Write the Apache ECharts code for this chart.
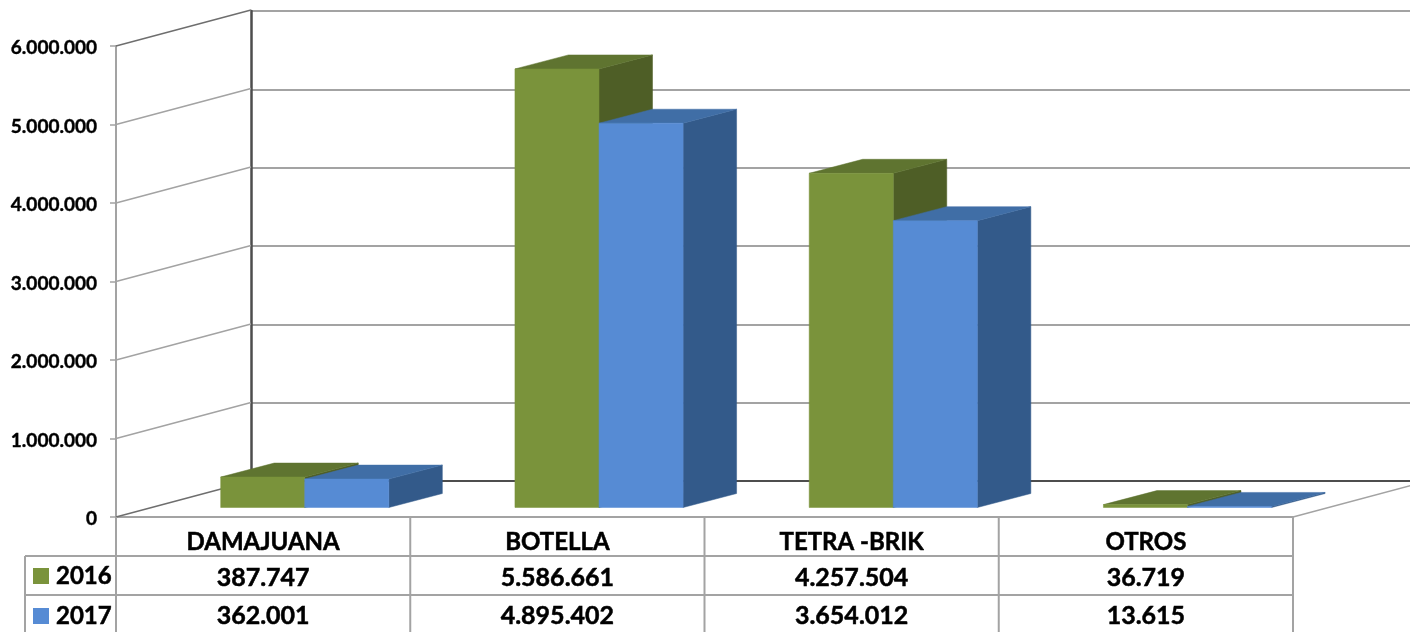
<!DOCTYPE html>
<html><head><meta charset="utf-8">
<style>html,body{margin:0;padding:0;background:#fff}#c{width:1410px;height:632px}</style>
<script src="https://cdn.jsdelivr.net/npm/echarts@6/dist/echarts.min.js"></script>
</head><body><div id="c"></div>
<script>
const categories = ['DAMAJUANA','BOTELLA','TETRA -BRIK','OTROS'];
const seriesNames = ['2016','2017'];
const values2016 = [387747,5586661,4257504,36719];
const values2017 = [362001,4895402,3654012,13615];
const yTicks = [0,1000000,2000000,3000000,4000000,5000000,6000000];

const FONT = 'Lato';
const GRID = '#a3a3a3';
const wall = {dx:135, dy:-36};
const depth = {dx:53.5, dy:-14};
const lift = -9.5;
const palette = {
  '2016':{front:'#7a933b', top:'#5f7430', side:'#4e5e26'},
  '2017':{front:'#568bd4', top:'#406ea6', side:'#335a8a'}
};
const table = {rows:[556,595,632], keyLeft:25, labelX:56, swatch:16, textShift:2.5};
const fmt = v => String(v).replace(/\B(?=(\d{3})+$)/g,'.');
const heavy = {stroke:'#000', lineWidth:0.5};

function barSeries(name, values, side){
  const c = palette[name];
  return {
    type:'custom', name, xAxisIndex:0, yAxisIndex:0, z:5, clip:false,
    data: values.map((v,i)=>[i,v]),
    renderItem(params, api){
      const i = api.value(0), v = api.value(1);
      const band = api.size([1,0])[0];
      const w = band*0.2857;
      const center = api.coord([i,0])[0] + band*0.1415;
      const x0 = side===0 ? center-w : center, x1 = x0+w;
      const yb = api.coord([i,0])[1]+lift, yt = api.coord([i,v])[1]+lift;
      const d = depth;
      const poly = (pts,fill)=>({type:'polygon',shape:{points:pts},style:{fill,stroke:fill,lineWidth:.5}});
      return {type:'group',children:[
        poly([[x1,yb],[x1+d.dx,yb+d.dy],[x1+d.dx,yt+d.dy],[x1,yt]],c.side),
        poly([[x0,yt],[x1,yt],[x1+d.dx,yt+d.dy],[x0+d.dx,yt+d.dy]],c.top),
        poly([[x0,yb],[x1,yb],[x1,yt],[x0,yt]],c.front)
      ]};
    }
  };
}
function rowSeries(name, values, rowIndex){
  const cy = (table.rows[rowIndex]+table.rows[rowIndex+1])/2 + table.textShift;
  return {
    type:'custom', name:name+' tabla', xAxisIndex:0, yAxisIndex:0, z:6, clip:false, silent:true,
    data: values.map((v,i)=>[i,v]),
    renderItem(params, api){
      const x = api.coord([api.value(0),0])[0];
      return {type:'text',style:Object.assign({x,y:cy,text:fmt(api.value(1)),font:'bold 25px '+FONT,fill:'#000',textAlign:'center',textVerticalAlign:'middle'},heavy)};
    }
  };
}

const option = {
  animation:false,
  backgroundColor:'#fff',
  grid:[
    {left:116, top:46, width:1177, height:471},
    {left:251.5, top:11, width:1158.5, height:470}
  ],
  xAxis:[
    {type:'category', gridIndex:0, data:categories,
     axisTick:{show:false},
     axisLine:{lineStyle:{color:GRID,width:2}},
     axisLabel:{interval:0, margin:13, color:'#000', fontFamily:FONT, fontWeight:'bold', fontSize:24, textBorderColor:'#000', textBorderWidth:0.5}},
    {type:'category', gridIndex:1, data:categories,
     axisTick:{show:false}, axisLabel:{show:false},
     axisLine:{lineStyle:{color:'#4d4d4d',width:2}}}
  ],
  yAxis:[
    {type:'value', gridIndex:0, min:0, max:6000000, interval:1000000,
     axisLine:{show:true,lineStyle:{color:GRID,width:2}},
     axisTick:{show:true,length:6,lineStyle:{color:GRID,width:1.5}},
     splitLine:{show:false},
     axisLabel:{margin:19,color:'#000',fontFamily:FONT,fontWeight:'bold',fontSize:19,
       formatter:v=>'{a|'+fmt(v)+'}',
       rich:{a:{padding:[4,0,0,0],fontFamily:FONT,fontWeight:'bold',fontSize:19,color:'#000',textBorderColor:'#000',textBorderWidth:0.4}}}},
    {type:'value', gridIndex:1, min:0, max:6000000, interval:1000000,
     axisLine:{show:true,lineStyle:{color:'#4d4d4d',width:2.5}},
     axisTick:{show:false}, axisLabel:{show:false},
     splitLine:{show:true,lineStyle:{color:GRID,width:2}}}
  ],
  series:[
    {type:'custom', name:'paredes', xAxisIndex:0, yAxisIndex:0, z:2, clip:false, silent:true,
     data: yTicks.map(v=>[0,v]),
     renderItem(params, api){
       const v = api.value(1);
       const y = api.coord([0,v])[1], x = params.coordSys.x;
       const edge = (v===0||v===6000000);
       const children = [{type:'line',shape:{x1:x,y1:y,x2:x+wall.dx,y2:y+wall.dy},style:{stroke:edge?'#6e6e6e':'#a3a3a3',lineWidth:1.5}}];
       if(v===0){
         const xr = x+params.coordSys.width;
         children.push({type:'line',shape:{x1:xr,y1:y,x2:xr+wall.dx,y2:y+wall.dy},style:{stroke:'#a3a3a3',lineWidth:1.5}});
       }
       return {type:'group',children};
     }},
    barSeries('2016',values2016,0),
    barSeries('2017',values2017,1),
    rowSeries('2016',values2016,0),
    rowSeries('2017',values2017,1),
    {type:'custom', name:'tabla', xAxisIndex:0, yAxisIndex:0, z:3, clip:false, silent:true,
     data:[[0,0]],
     renderItem(params, api){
       const cs = params.coordSys, yb = cs.y+cs.height, xr = cs.x+cs.width, n = categories.length;
       const st = {stroke:GRID,lineWidth:2};
       const kids = [];
       for(let k=0;k<=n;k++){
         const x = cs.x+cs.width*k/n;
         kids.push({type:'line',shape:{x1:x,y1:yb,x2:x,y2:table.rows[2]},style:st});
       }
       kids.push({type:'line',shape:{x1:table.keyLeft,y1:table.rows[0],x2:table.keyLeft,y2:table.rows[2]},style:st});
       kids.push({type:'line',shape:{x1:table.keyLeft,y1:table.rows[0],x2:xr,y2:table.rows[0]},style:st});
       kids.push({type:'line',shape:{x1:table.keyLeft,y1:table.rows[1],x2:xr,y2:table.rows[1]},style:st});
       seriesNames.forEach((nm,r)=>{
         const cy = r===0 ? 576 : 616;
         kids.push({type:'rect',shape:{x:33,y:cy-table.swatch/2,width:table.swatch,height:table.swatch},style:{fill:palette[nm].front}});
         kids.push({type:'text',style:Object.assign({x:table.labelX,y:cy,text:nm,font:'bold 24px '+FONT,fill:'#000',textAlign:'left',textVerticalAlign:'middle'},heavy)});
       });
       return {type:'group',children:kids};
     }}
  ]
};
const chart = echarts.init(document.getElementById('c'),null,{renderer:'canvas'});
chart.setOption(option);
</script></body></html>
